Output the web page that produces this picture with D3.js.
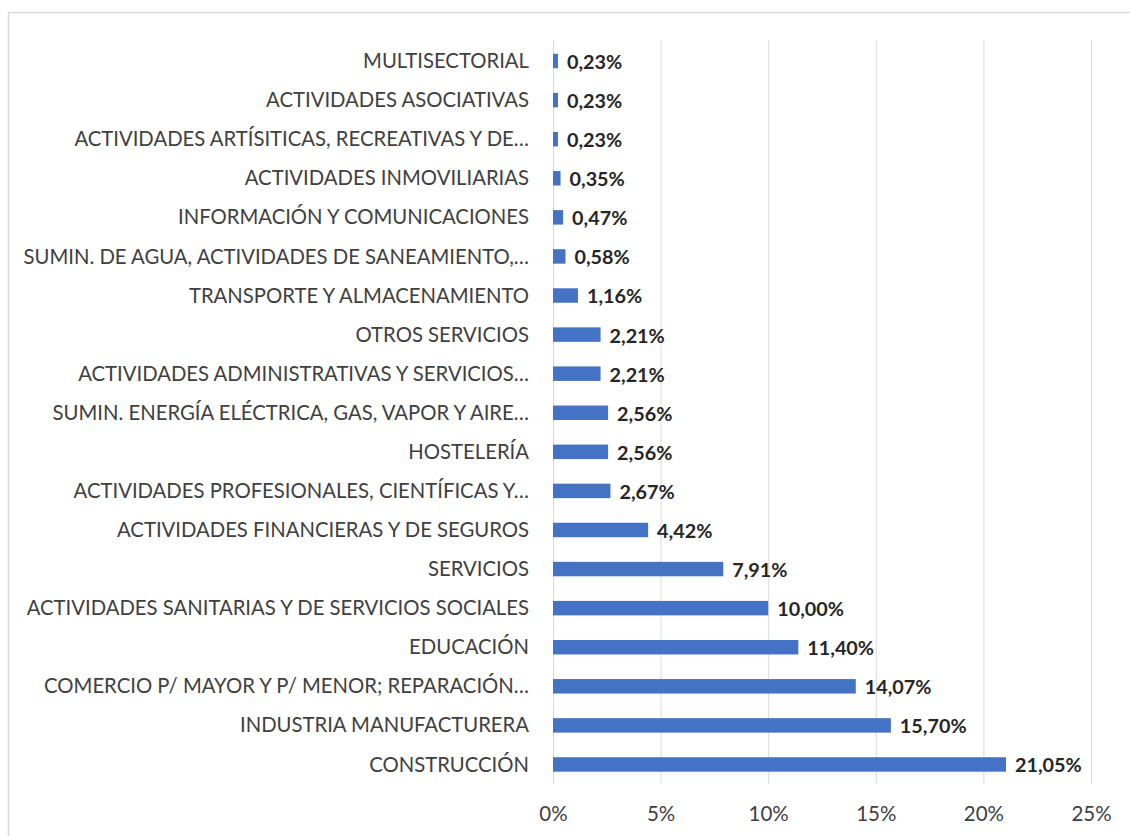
<!DOCTYPE html>
<html><head><meta charset="utf-8">
<script src="https://cdn.jsdelivr.net/npm/d3@7"></script>
<style>
html,body{margin:0;padding:0;background:#fff;}
svg{display:block;}
</style></head>
<body>
<svg id="chart" width="1130" height="836"></svg>
<script>
const categories = [
  "MULTISECTORIAL",
  "ACTIVIDADES ASOCIATIVAS",
  "ACTIVIDADES ARTÍSITICAS, RECREATIVAS Y DE…",
  "ACTIVIDADES INMOVILIARIAS",
  "INFORMACIÓN Y COMUNICACIONES",
  "SUMIN. DE AGUA, ACTIVIDADES DE SANEAMIENTO,…",
  "TRANSPORTE Y ALMACENAMIENTO",
  "OTROS SERVICIOS",
  "ACTIVIDADES ADMINISTRATIVAS Y SERVICIOS…",
  "SUMIN. ENERGÍA ELÉCTRICA, GAS, VAPOR Y AIRE…",
  "HOSTELERÍA",
  "ACTIVIDADES PROFESIONALES, CIENTÍFICAS Y…",
  "ACTIVIDADES FINANCIERAS Y DE SEGUROS",
  "SERVICIOS",
  "ACTIVIDADES SANITARIAS Y DE SERVICIOS SOCIALES",
  "EDUCACIÓN",
  "COMERCIO P/ MAYOR Y P/ MENOR; REPARACIÓN…",
  "INDUSTRIA MANUFACTURERA",
  "CONSTRUCCIÓN"
];
const values = [0.23, 0.23, 0.23, 0.35, 0.47, 0.58, 1.16, 2.21, 2.21, 2.56, 2.56, 2.67, 4.42, 7.91, 10.00, 11.40, 14.07, 15.70, 21.05];
const tickValues = [0, 5, 10, 15, 20, 25];

const svg = d3.select("#chart");
const FONT = "Lato, 'Open Sans', sans-serif";

// chart border
svg.append("rect").attr("x", 8.5).attr("y", 12.5).attr("width", 1140).attr("height", 840)
  .attr("fill", "none").attr("stroke", "#d9d9d9").attr("stroke-width", 1.5);

const x = d3.scaleLinear().domain([0, 25]).range([553, 1091]);
const y = d3.scaleBand().domain(categories).range([41.5, 784]).paddingInner(0.63).paddingOuter(0.315);

// gridlines
svg.append("g").selectAll("line").data(tickValues).join("line")
  .attr("x1", d => x(d) + 0.5).attr("x2", d => x(d) + 0.5)
  .attr("y1", 40).attr("y2", 784)
  .attr("stroke", "#d9d9d9").attr("stroke-width", 1);

// x axis labels
const xAxis = d3.axisBottom(x).tickValues(tickValues).tickSize(0).tickPadding(0).tickFormat(d => d + "%");
const gx = svg.append("g").attr("transform", "translate(0,784)").call(xAxis);
gx.select(".domain").remove();
gx.selectAll("text").attr("dy", null).attr("y", 37)
  .attr("font-family", FONT).attr("font-size", 20.5).attr("fill", "#404040");

// y axis labels
const yAxis = d3.axisLeft(y).tickSize(0).tickPadding(0);
const gy = svg.append("g").attr("transform", "translate(529,0)").call(yAxis);
gy.select(".domain").remove();
gy.selectAll("text").attr("dy", "0.35em")
  .attr("font-family", FONT).attr("font-size", 20.3).attr("fill", "#404040");

// bars
svg.append("g").selectAll("rect").data(values).join("rect")
  .attr("x", x(0))
  .attr("y", (d, i) => y(categories[i]))
  .attr("width", d => x(d) - x(0))
  .attr("height", y.bandwidth())
  .attr("fill", "#4472c4");

// value labels
const fmt = d => d.toFixed(2).replace(".", ",") + "%";
svg.append("g").selectAll("text").data(values).join("text")
  .attr("x", d => x(d) + 9)
  .attr("y", (d, i) => y(categories[i]) + y.bandwidth() / 2 + 1)
  .attr("dy", "0.35em")
  .attr("font-family", FONT).attr("font-weight", "bold").attr("font-size", 19.8)
  .attr("fill", "#262626")
  .text(fmt);
</script>
</body></html>
